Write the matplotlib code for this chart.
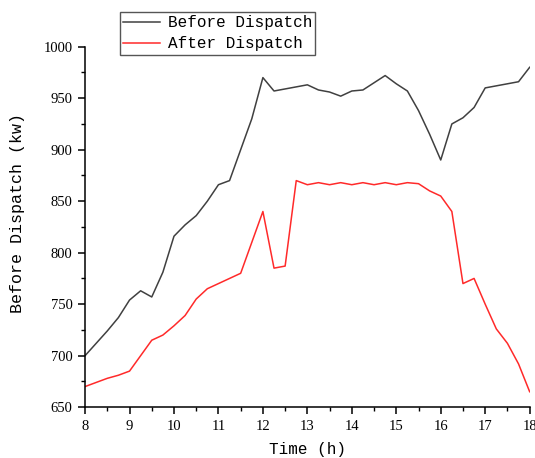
import numpy as np
import matplotlib.pyplot as plt
from matplotlib.ticker import MultipleLocator

# --- data (15 min steps) ---
hours = [8, 8.25, 8.5, 8.75, 9, 9.25, 9.5, 9.75, 10, 10.25, 10.5, 10.75,
         11, 11.25, 11.5, 11.75, 12, 12.25, 12.5, 12.75, 13, 13.25, 13.5, 13.75,
         14, 14.25, 14.5, 14.75, 15, 15.25, 15.5, 15.75, 16, 16.25, 16.5, 16.75,
         17, 17.25, 17.5, 17.75, 18]
before_kw = [700, 712, 724, 737, 754, 763, 757, 781, 816, 827, 836, 850,
             866, 870, 900, 930, 970, 957, 959, 961, 963, 958, 956, 952,
             957, 958, 965, 972, 964, 957, 938, 915, 890, 925, 931, 941,
             960, 962, 964, 966, 980]
after_kw = [670, 674, 678, 681, 685, 700, 715, 720, 729, 739, 755, 765,
            770, 775, 780, 810, 840, 785, 787, 870, 866, 868, 866, 868,
            866, 868, 866, 868, 866, 868, 867, 860, 855, 840, 770, 775,
            750, 726, 712, 692, 665]

FONT = 'Liberation Mono'
TICK_FONT = 'Liberation Serif'
plt.rcParams['font.family'] = FONT

fig = plt.figure(figsize=(5.35, 4.58), dpi=100)
ax = fig.add_axes([0.159, 0.111, 0.831, 0.787])

ax.plot(hours, before_kw, color='#404040', linewidth=1.1, label='Before Dispatch')
ax.plot(hours, after_kw, color='#ff2a2a', linewidth=1.1, label='After Dispatch')

ax.set_xlim(8, 18)
ax.set_ylim(650, 1000)
ax.xaxis.set_major_locator(MultipleLocator(1))
ax.xaxis.set_minor_locator(MultipleLocator(0.5))
ax.yaxis.set_major_locator(MultipleLocator(50))
ax.yaxis.set_minor_locator(MultipleLocator(25))

for side in ['top', 'right']:
    ax.spines[side].set_visible(False)
for side in ['left', 'bottom']:
    ax.spines[side].set_linewidth(1.1)

ax.tick_params(which='major', direction='out', length=5, width=1.1,
               labelsize=10.5, pad=4)
ax.tick_params(which='minor', direction='out', length=3, width=1.0)
for lab in ax.get_xticklabels() + ax.get_yticklabels():
    lab.set_family(TICK_FONT)

ax.set_xlabel('Time (h)', fontsize=11.5, labelpad=7)
ax.set_ylabel('Before Dispatch (kw)', fontsize=12)
ax.yaxis.set_label_coords(-0.135, 0.54)

leg = fig.legend(loc='upper left', bbox_to_anchor=(0.224, 0.974),
                 fontsize=11.5, frameon=True, fancybox=False, framealpha=1,
                 edgecolor='#555555', handlelength=2.3, handletextpad=0.5,
                 borderpad=0.2, labelspacing=0.4, borderaxespad=0)
leg.get_frame().set_linewidth(1.0)

fig.savefig('out.png', dpi=100)
